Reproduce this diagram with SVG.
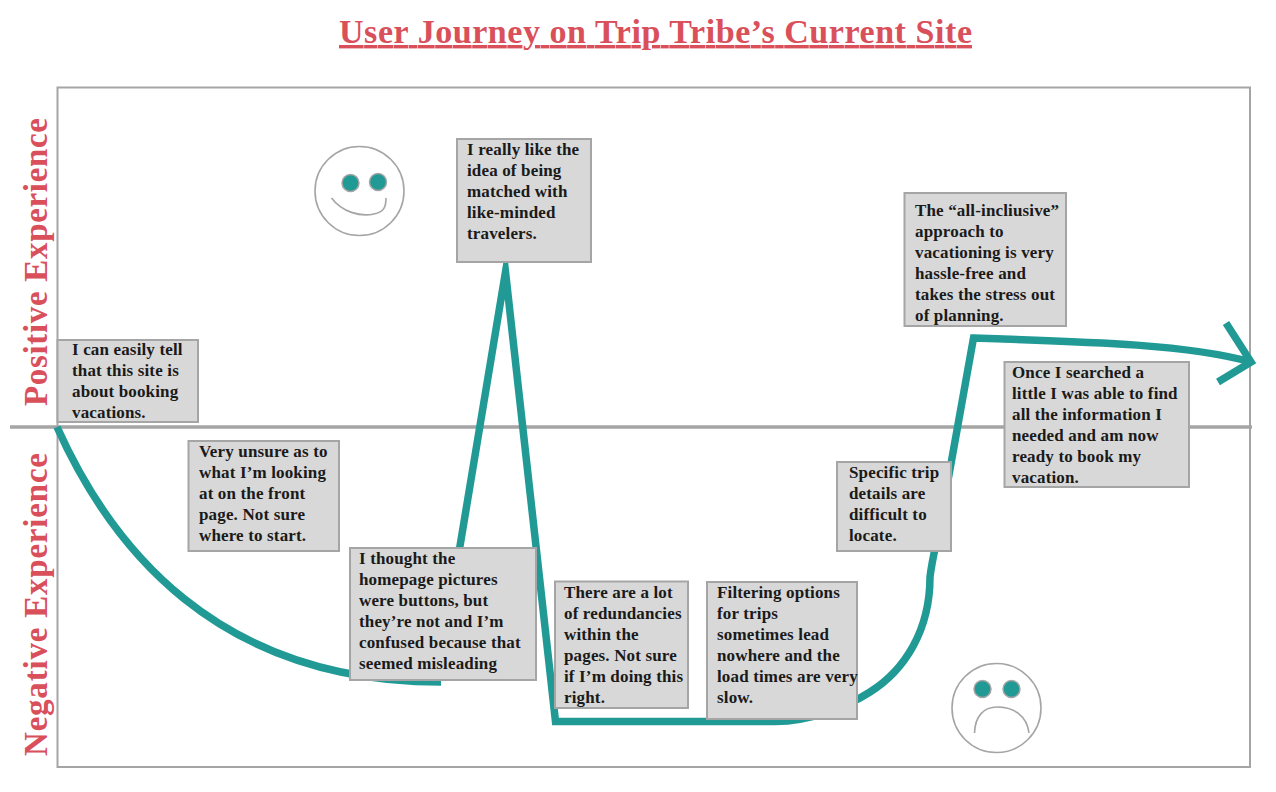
<svg xmlns="http://www.w3.org/2000/svg" width="1276" height="792" viewBox="0 0 1276 792">
<style>
.title{font-family:"Liberation Serif","DejaVu Serif",serif;font-weight:700;fill:#d9505b}
.frame{fill:none;stroke:#a5a5a5;stroke-width:2}
.mid{fill:none;stroke:#a5a5a5;stroke-width:3.5}
.curve{fill:none;stroke:#219a96;stroke-width:7.5;stroke-miterlimit:20}
.box{fill:#d8d8d8;stroke:#a5a5a5;stroke-width:2}
.note{font-family:"Liberation Serif","DejaVu Serif",serif;font-weight:700;font-size:17px;letter-spacing:.15px;fill:#1a1a1a}
.face{fill:#fff;stroke:#a5a5a5;stroke-width:1.6}
.eye{fill:#219a96;stroke:#a5a5a5;stroke-width:1.5}
.smile{fill:none;stroke:#a5a5a5;stroke-width:1.6}
</style>
<rect width="1276" height="792" fill="#fff"/>
<text class="title" x="655.5" y="43" font-size="34" text-anchor="middle" text-decoration="underline" textLength="633" lengthAdjust="spacing">User Journey on Trip Tribe’s Current Site</text>
<text class="title" transform="translate(47 262) rotate(-90)" font-size="33" text-anchor="middle" textLength="288" lengthAdjust="spacing">Positive Experience</text>
<text class="title" transform="translate(47 604.5) rotate(-90)" font-size="33" text-anchor="middle" textLength="303" lengthAdjust="spacing">Negative Experience</text>
<rect class="frame" x="57.5" y="87.5" width="1192.5" height="679.5"/>
<line class="mid" x1="10" y1="427" x2="1252" y2="427"/>
<g id="connectors">
<path class="curve" d="M57 427C110 545 215 682 441 682"/>
<path class="curve" d="M459 552L505.500 272L555.500 721.500H775C810 721 845 708 870 692C905 670 930 630 930 577C932 560 936 545 940 525L973.500 338C1100 342 1190 345 1251 362"/>
<path class="curve" d="M1226 323L1251 362L1218 382"/>
</g>
<g id="face-happy">
<circle class="face" cx="359.500" cy="191" r="44.500"/>
<circle class="eye" cx="350.500" cy="183" r="8.500"/>
<circle class="eye" cx="378" cy="182" r="8.500"/>
<path class="smile" d="M331.500 198C342 212 360 217 374 214C384 212 386 207 386 198"/>
</g>
<g id="face-sad">
<circle class="face" cx="996.500" cy="708" r="44.500"/>
<circle class="eye" cx="982.500" cy="689" r="8.500"/>
<circle class="eye" cx="1011.500" cy="689" r="8.500"/>
<path class="smile" d="M974.500 733C975 716 984 707 997 707C1014 707 1027 716 1029 733"/>
</g>
<g id="note-1"><rect class="box" x="57.500" y="340" width="140.500" height="82"/>
<text class="note"><tspan x="72" y="355">I can easily tell</tspan><tspan x="72" y="376">that this site is</tspan><tspan x="72" y="397">about booking</tspan><tspan x="72" y="418">vacations.</tspan></text></g>
<g id="note-2"><rect class="box" x="188.500" y="441" width="150.500" height="110"/>
<text class="note"><tspan x="199" y="457">Very unsure as to</tspan><tspan x="199" y="478">what I’m looking</tspan><tspan x="199" y="499">at on the front</tspan><tspan x="199" y="520">page. Not sure</tspan><tspan x="199" y="541">where to start.</tspan></text></g>
<g id="note-3"><rect class="box" x="350" y="548" width="186" height="132"/>
<text class="note"><tspan x="359" y="564">I thought the</tspan><tspan x="359" y="585">homepage pictures</tspan><tspan x="359" y="606">were buttons, but</tspan><tspan x="359" y="627">they’re not and I’m</tspan><tspan x="359" y="648">confused because that</tspan><tspan x="359" y="669">seemed misleading</tspan></text></g>
<g id="note-4"><rect class="box" x="457" y="139" width="134" height="123"/>
<text class="note"><tspan x="467" y="155">I really like the</tspan><tspan x="467" y="176">idea of being</tspan><tspan x="467" y="197">matched with</tspan><tspan x="467" y="218">like-minded</tspan><tspan x="467" y="239">travelers.</tspan></text></g>
<g id="note-5"><rect class="box" x="555" y="581.500" width="133" height="126.500"/>
<text class="note"><tspan x="564" y="598">There are a lot</tspan><tspan x="564" y="619">of redundancies</tspan><tspan x="564" y="640">within the</tspan><tspan x="564" y="661">pages. Not sure</tspan><tspan x="564" y="682">if I’m doing this</tspan><tspan x="564" y="703">right.</tspan></text></g>
<g id="note-6"><rect class="box" x="707" y="582" width="150" height="137"/>
<text class="note"><tspan x="717" y="598">Filtering options</tspan><tspan x="717" y="619">for trips</tspan><tspan x="717" y="640">sometimes lead</tspan><tspan x="717" y="661">nowhere and the</tspan><tspan x="717" y="682">load times are very</tspan><tspan x="717" y="703">slow.</tspan></text></g>
<g id="note-7"><rect class="box" x="837" y="462" width="114" height="89"/>
<text class="note"><tspan x="849" y="478">Specific trip</tspan><tspan x="849" y="499">details are</tspan><tspan x="849" y="520">difficult to</tspan><tspan x="849" y="541">locate.</tspan></text></g>
<g id="note-8"><rect class="box" x="904.500" y="193" width="161.500" height="133"/>
<text class="note"><tspan x="915" y="216">The “all-incliusive”</tspan><tspan x="915" y="237">approach to</tspan><tspan x="915" y="258">vacationing is very</tspan><tspan x="915" y="279">hassle-free and</tspan><tspan x="915" y="300">takes the stress out</tspan><tspan x="915" y="321">of planning.</tspan></text></g>
<g id="note-9"><rect class="box" x="1004.500" y="362" width="184.500" height="125"/>
<text class="note"><tspan x="1012" y="378">Once I searched a</tspan><tspan x="1012" y="399">little I was able to find</tspan><tspan x="1012" y="420">all the information I</tspan><tspan x="1012" y="441">needed and am now</tspan><tspan x="1012" y="462">ready to book my</tspan><tspan x="1012" y="483">vacation.</tspan></text></g>
</svg>
